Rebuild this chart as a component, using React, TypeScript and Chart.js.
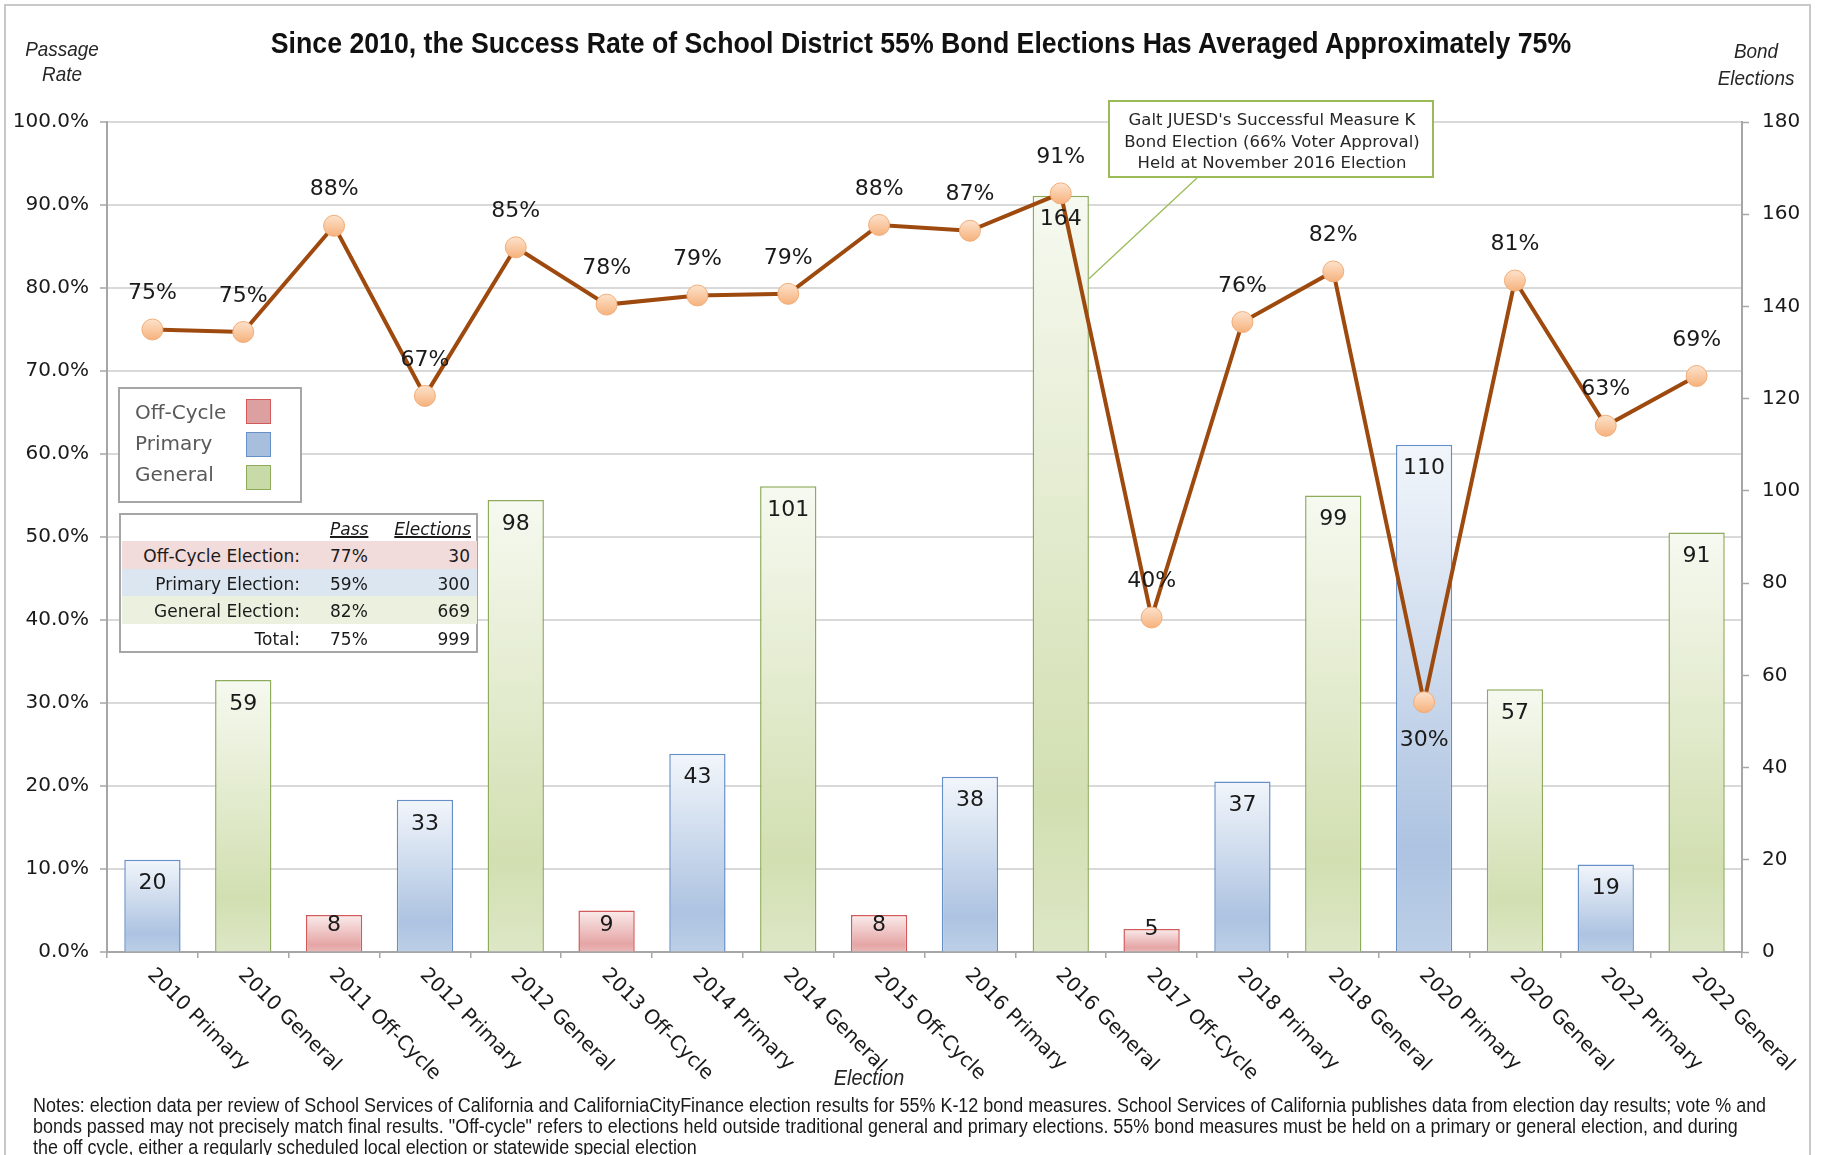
import React, { useEffect, useRef } from "react";
import { Chart, registerables } from "chart.js";

Chart.register(...registerables);

// ---- data ----
const categories = [
  "2010 Primary", "2010 General", "2011 Off-Cycle", "2012 Primary", "2012 General",
  "2013 Off-Cycle", "2014 Primary", "2014 General", "2015 Off-Cycle", "2016 Primary",
  "2016 General", "2017 Off-Cycle", "2018 Primary", "2018 General", "2020 Primary",
  "2020 General", "2022 Primary", "2022 General",
];
const electionType = [
  "Primary", "General", "Off-Cycle", "Primary", "General",
  "Off-Cycle", "Primary", "General", "Off-Cycle", "Primary",
  "General", "Off-Cycle", "Primary", "General", "Primary",
  "General", "Primary", "General",
];
const bondElections = [20, 59, 8, 33, 98, 9, 43, 101, 8, 38, 164, 5, 37, 99, 110, 57, 19, 91];
const passRate = [75.0, 74.7, 87.5, 67.0, 84.9, 78.0, 79.1, 79.3, 87.6, 86.9, 91.4, 40.3, 75.9, 82.0, 30.1, 80.9, 63.4, 69.4];

const rateTickStep = 10;
const countTickStep = 20;

const legendLabels = ["Off-Cycle", "Primary", "General"];
const summaryLabels = ["Off-Cycle Election:", "Primary Election:", "General Election:", "Total:"];
const summaryPass = ["77%", "59%", "82%", "75%"];
const summaryCount = ["30", "300", "669", "999"];

const noteLines = [
  "Notes: election data per review of School Services of California and CaliforniaCityFinance election results for 55% K-12 bond measures. School Services of California publishes data from election day results; vote % and",
  "bonds passed may not precisely match final results. \"Off-cycle\" refers to elections held outside traditional general and primary elections. 55% bond measures must be held on a primary or general election, and during",
  "the off cycle, either a regularly scheduled local election or statewide special election",
];
const calloutLines = [
  "Galt JUESD's Successful Measure K",
  "Bond Election (66% Voter Approval)",
  "Held at November 2016 Election",
];

// ---- styling ----
const W = 1822;
const H = 1155;
const PLOT = { left: 107, right: 1742, top: 122, bottom: 952 };
const LABEL_FONT = '"DejaVu Sans", sans-serif';
const TEXT_FONT = '"Liberation Sans", Arial, sans-serif';

type TypeStyle = { stops: [string, string, string]; border: string; swatch: string; rowFill: string };
const typeStyle: Record<string, TypeStyle> = {
  "Off-Cycle": { stops: ["#fbecec", "#e5a5a5", "#ebb8b8"], border: "#d25a5a", swatch: "#dca0a0", rowFill: "#f2dcdb" },
  Primary: { stops: ["#f2f6fb", "#adc3e1", "#bccfe7"], border: "#6790c8", swatch: "#a7bedd", rowFill: "#dce6f1" },
  General: { stops: ["#f6f9f0", "#d2dfb1", "#dde7c6"], border: "#8dab5a", swatch: "#c9daa9", rowFill: "#ebf1de" },
};
const summaryFills = [typeStyle["Off-Cycle"].rowFill, typeStyle.Primary.rowFill, typeStyle.General.rowFill, "transparent"];

const labelsBelow = new Set(["2020 Primary"]);

const valueLabelPlugin = {
  id: "valueLabels",
  afterDatasetsDraw(chart: any) {
    const ctx = chart.ctx as CanvasRenderingContext2D;
    ctx.save();
    ctx.font = `22px ${LABEL_FONT}`;
    ctx.fillStyle = "#1a1a1a";
    ctx.textAlign = "center";
    ctx.textBaseline = "middle";
    const barMeta = chart.getDatasetMeta(0);
    barMeta.data.forEach((el: any, i: number) => {
      const h = el.base - el.y;
      const cy = el.y + Math.min(24, Math.max(0, h - 26));
      ctx.fillText(String(bondElections[i]), el.x, cy);
    });
    const lineMeta = chart.getDatasetMeta(1);
    lineMeta.data.forEach((el: any, i: number) => {
      const below = labelsBelow.has(categories[i]);
      ctx.fillText(`${Math.round(passRate[i])}%`, el.x, el.y + (below ? 38 : -36));
    });

    // leader from the callout box to the 2016 General bar
    const idx = categories.indexOf("2016 General");
    const bar: any = barMeta.data[idx];
    if (bar) {
      const endX = bar.x + bar.width / 2;
      const endY = chart.scales.yCount.getPixelForValue(146);
      ctx.strokeStyle = "#9bbb59";
      ctx.lineWidth = 1.3;
      ctx.beginPath();
      ctx.moveTo(1197, 178);
      ctx.lineTo(endX, endY);
      ctx.stroke();
    }
    ctx.restore();
  },
};

const slantedLabelPlugin = {
  id: "slantedLabels",
  afterDraw(chart: any) {
    const ctx = chart.ctx as CanvasRenderingContext2D;
    const x = chart.scales.x;
    ctx.save();
    ctx.font = `20px ${LABEL_FONT}`;
    ctx.fillStyle = "#1a1a1a";
    ctx.textAlign = "left";
    ctx.textBaseline = "middle";
    categories.forEach((c, i) => {
      const px = x.getPixelForValue(i);
      ctx.save();
      ctx.translate(px - 2, x.top + 20);
      ctx.rotate(Math.PI / 4);
      ctx.fillText(c, 0, 0);
      ctx.restore();
    });
    ctx.restore();
  },
};

function barFill(c: any) {
  const style = typeStyle[electionType[c.dataIndex]] || typeStyle.Primary;
  if (c.type !== "data") return style.stops[1];
  const ys = c.chart.scales?.yCount;
  if (!ys) return style.stops[1];
  const top = ys.getPixelForValue(bondElections[c.dataIndex]);
  const base = ys.getPixelForValue(0);
  if (!Number.isFinite(top) || !Number.isFinite(base) || base - top < 1) return style.stops[1];
  const g = c.chart.ctx.createLinearGradient(0, top, 0, base);
  g.addColorStop(0, style.stops[0]);
  g.addColorStop(0.8, style.stops[1]);
  g.addColorStop(1, style.stops[2]);
  return g;
}

function pointFill(c: any) {
  const fallback = "#f9c498";
  if (c.type !== "data") return fallback;
  const ys = c.chart.scales?.yRate;
  if (!ys) return fallback;
  const py = ys.getPixelForValue(passRate[c.dataIndex]);
  if (!Number.isFinite(py)) return fallback;
  const g = c.chart.ctx.createLinearGradient(0, py - 11, 0, py + 11);
  g.addColorStop(0, "#fde4ce");
  g.addColorStop(1, "#f6b07a");
  return g;
}

type TxtProps = {
  x: number;
  y: number;
  align?: "left" | "right" | "center";
  squeeze?: number;
  style?: React.CSSProperties;
  children: React.ReactNode;
};
// Absolutely placed single line of text, vertically centred on y.
function Txt({ x, y, align = "left", squeeze = 1, style, children }: TxtProps) {
  const w = 1800;
  const left = align === "left" ? x : align === "right" ? x - w : x - w / 2;
  const origin = align === "left" ? "0% 50%" : align === "right" ? "100% 50%" : "50% 50%";
  return (
    <div
      style={{
        position: "absolute",
        left,
        top: y - 16,
        width: w,
        height: 32,
        lineHeight: "32px",
        textAlign: align,
        whiteSpace: "nowrap",
        transform: squeeze !== 1 ? `scaleX(${squeeze})` : undefined,
        transformOrigin: origin,
        ...style,
      }}
    >
      {children}
    </div>
  );
}

export default function App() {
  const canvasRef = useRef<HTMLCanvasElement>(null);

  useEffect(() => {
    document.body.style.margin = "0";
    const canvas = canvasRef.current;
    if (!canvas) return;
    const chart = new Chart(canvas, {
      type: "bar",
      data: {
        labels: categories,
        datasets: [
          {
            type: "bar",
            label: "Bond Elections",
            data: bondElections,
            yAxisID: "yCount",
            order: 2,
            backgroundColor: barFill as any,
            borderColor: ((c: any) => (typeStyle[electionType[c.dataIndex]] || typeStyle.Primary).border) as any,
            borderWidth: 1.5,
            borderSkipped: "bottom",
            barPercentage: 0.62,
            categoryPercentage: 1,
          },
          {
            type: "line",
            label: "Passage Rate",
            data: passRate,
            yAxisID: "yRate",
            order: 1,
            borderColor: "#9e4a0f",
            borderWidth: 4,
            pointRadius: 10.5,
            pointBorderWidth: 1,
            pointBorderColor: "#f2ad78",
            pointBackgroundColor: pointFill as any,
            tension: 0,
          } as any,
        ],
      },
      options: {
        responsive: false,
        animation: false,
        devicePixelRatio: 1,
        layout: { padding: { top: PLOT.top, left: 0, right: 0, bottom: 0 } },
        plugins: {
          legend: { display: false },
          title: { display: false },
          tooltip: { enabled: false },
        },
        scales: {
          x: {
            type: "category",
            offset: true,
            grid: {
              display: true,
              offset: true,
              drawOnChartArea: false,
              drawTicks: true,
              tickLength: 6,
              color: "#a6a6a6",
              lineWidth: 1.5,
            },
            border: { color: "#a6a6a6", width: 2 },
            ticks: { display: false },
            afterFit: (s: any) => {
              s.height = H - PLOT.bottom;
            },
          },
          yRate: {
            type: "linear",
            position: "left",
            min: 0,
            max: 100,
            grid: {
              color: "#d9d9d9",
              lineWidth: 2,
              tickLength: 7,
              tickColor: "#a6a6a6",
              tickWidth: 1.5,
            },
            border: { color: "#a6a6a6", width: 2 },
            ticks: {
              stepSize: rateTickStep,
              padding: 11,
              color: "#1a1a1a",
              font: { family: "DejaVu Sans", size: 20 },
              callback: (v: any) => `${Number(v).toFixed(1)}%`,
            },
            afterFit: (s: any) => {
              s.width = PLOT.left;
            },
          },
          yCount: {
            type: "linear",
            position: "right",
            min: 0,
            max: 180,
            grid: {
              drawOnChartArea: false,
              tickLength: 7,
              color: "#a6a6a6",
              tickColor: "#a6a6a6",
              tickWidth: 1.5,
            },
            border: { color: "#a6a6a6", width: 2 },
            ticks: {
              stepSize: countTickStep,
              padding: 13,
              color: "#1a1a1a",
              font: { family: "DejaVu Sans", size: 20 },
            },
            afterFit: (s: any) => {
              s.width = W - PLOT.right;
            },
          },
        } as any,
      },
      plugins: [valueLabelPlugin, slantedLabelPlugin],
    });
    return () => chart.destroy();
  }, []);

  const labelStyle: React.CSSProperties = { fontFamily: LABEL_FONT, color: "#1a1a1a" };
  const italicStyle: React.CSSProperties = {
    fontFamily: TEXT_FONT,
    fontStyle: "italic",
    fontSize: 21,
    color: "#262626",
  };

  return (
    <div
      style={{
        position: "relative",
        width: W,
        height: H,
        overflow: "hidden",
        background: "#ffffff",
      }}
    >
      {/* outer frame */}
      <div
        style={{
          position: "absolute",
          left: 4,
          top: 4,
          width: 1807,
          height: 1220,
          boxSizing: "border-box",
          border: "2px solid #c8c8c8",
        }}
      />
      <canvas
        ref={canvasRef}
        width={W}
        height={H}
        style={{ position: "absolute", left: 0, top: 0, width: W, height: H }}
      />

      {/* title and axis titles */}
      <Txt x={921} y={43} align="center" squeeze={0.92} style={{ fontFamily: TEXT_FONT, fontWeight: 700, fontSize: 29, color: "#111" }}>
        Since 2010, the Success Rate of School District 55% Bond Elections Has Averaged Approximately 75%
      </Txt>
      <Txt x={62} y={49} align="center" squeeze={0.9} style={italicStyle}>Passage</Txt>
      <Txt x={62} y={74} align="center" squeeze={0.9} style={italicStyle}>Rate</Txt>
      <Txt x={1756} y={51} align="center" squeeze={0.9} style={italicStyle}>Bond</Txt>
      <Txt x={1756} y={78} align="center" squeeze={0.9} style={italicStyle}>Elections</Txt>
      <Txt x={869} y={1078} align="center" squeeze={0.9} style={{ ...italicStyle, fontSize: 22 }}>Election</Txt>

      {/* legend */}
      <div
        style={{
          position: "absolute",
          left: 118,
          top: 387,
          width: 184,
          height: 116,
          boxSizing: "border-box",
          border: "2px solid #a6a6a6",
          background: "#fff",
        }}
      />
      {legendLabels.map((t, k) => {
        const st = typeStyle[t];
        return (
          <React.Fragment key={t}>
            <Txt x={135} y={412 + k * 31} style={{ fontFamily: LABEL_FONT, fontSize: 20, color: "#595959" }}>
              {t}
            </Txt>
            <div
              style={{
                position: "absolute",
                left: 246,
                top: 399 + k * 33,
                width: 25,
                height: 25,
                boxSizing: "border-box",
                border: `1.5px solid ${st.border}`,
                background: st.swatch,
              }}
            />
          </React.Fragment>
        );
      })}

      {/* summary table */}
      <div
        style={{
          position: "absolute",
          left: 119,
          top: 513,
          width: 359,
          height: 140,
          boxSizing: "border-box",
          border: "2px solid #a6a6a6",
          background: "#fff",
        }}
      />
      {summaryLabels.map((t, k) => (
        <React.Fragment key={t}>
          <div
            style={{
              position: "absolute",
              left: 122,
              top: 541 + k * 27.5,
              width: 355,
              height: 27.5,
              background: summaryFills[k],
            }}
          />
          <Txt x={300} y={556 + k * 27.5} align="right" style={{ ...labelStyle, fontSize: 17 }}>{t}</Txt>
          <Txt x={330} y={556 + k * 27.5} style={{ ...labelStyle, fontSize: 17 }}>{summaryPass[k]}</Txt>
          <Txt x={470} y={556 + k * 27.5} align="right" style={{ ...labelStyle, fontSize: 17 }}>{summaryCount[k]}</Txt>
        </React.Fragment>
      ))}
      <Txt
        x={330}
        y={529}
        style={{ ...labelStyle, fontSize: 17, fontStyle: "italic", textDecoration: "underline", textDecorationThickness: "2px" }}
      >
        Pass
      </Txt>
      <Txt
        x={471}
        y={529}
        align="right"
        style={{ ...labelStyle, fontSize: 17, fontStyle: "italic", textDecoration: "underline", textDecorationThickness: "2px" }}
      >
        Elections
      </Txt>

      {/* callout */}
      <div
        style={{
          position: "absolute",
          left: 1108,
          top: 100,
          width: 326,
          height: 78,
          boxSizing: "border-box",
          border: "2px solid #9bbb59",
          background: "#fff",
        }}
      />
      {calloutLines.map((t, k) => (
        <Txt key={t} x={1272} y={120 + k * 21.5} align="center" style={{ fontFamily: LABEL_FONT, fontSize: 16.5, color: "#262626" }}>
          {t}
        </Txt>
      ))}

      {/* notes */}
      {noteLines.map((t, k) => (
        <Txt key={k} x={33} y={1105 + k * 21} squeeze={0.92} style={{ fontFamily: TEXT_FONT, fontSize: 19.5, color: "#1a1a1a" }}>
          {t}
        </Txt>
      ))}
    </div>
  );
}
